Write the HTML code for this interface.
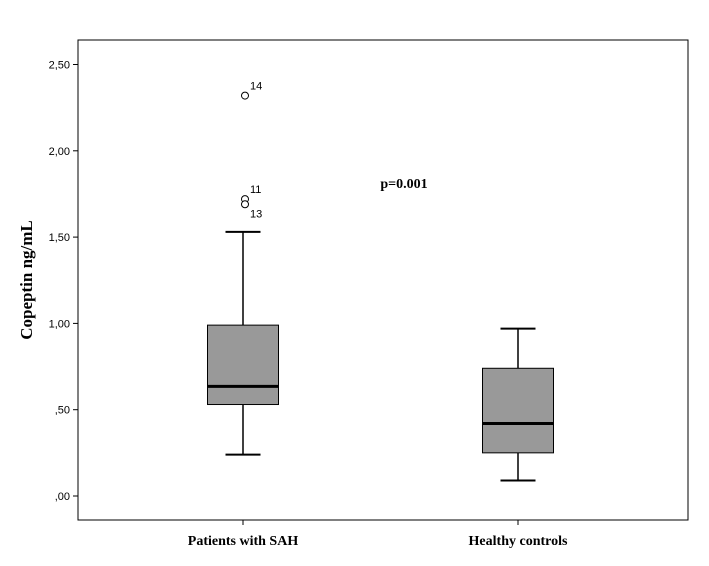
<!DOCTYPE html>
<html><head><meta charset="utf-8"><style>
body{margin:0;background:#fff;}
svg{display:block;}
</style></head><body>
<svg id="chart" width="709" height="566" xmlns="http://www.w3.org/2000/svg">
<rect x="0" y="0" width="709" height="566" fill="#fff"/>
<rect x="78" y="40" width="610" height="480" fill="none" stroke="#000" stroke-width="1"/>
<text x="32" y="280" transform="rotate(-90 32 280)" text-anchor="middle" font-family="Liberation Serif, serif" font-weight="bold" font-size="17">Copeptin ng/mL</text>
<text x="404" y="188" text-anchor="middle" font-family="Liberation Serif, serif" font-weight="bold" font-size="14">p=0.001</text>
<g id="yaxis"></g><g id="boxes"></g><g id="xaxis"></g>
</svg>
<script>
const categories = ["Patients with SAH", "Healthy controls"];
const whiskerLow = [0.24, 0.09];
const q1 = [0.53, 0.25];
const median = [0.635, 0.42];
const q3 = [0.99, 0.74];
const whiskerHigh = [1.53, 0.97];
const outlierValues = [[2.32, 1.72, 1.69], []];
const outlierLabels = [["14", "11", "13"], []];
const yTicks = [0, 0.5, 1, 1.5, 2, 2.5];
const yTickLabels = [",00", ",50", "1,00", "1,50", "2,00", "2,50"];

const NS = "http://www.w3.org/2000/svg";
function y(v){ return 496 - v * 172.6; }
function xc(i){ return 243 + i * 275; }
function mk(tag, attrs, parent){
  const e = document.createElementNS(NS, tag);
  for (const k in attrs) e.setAttribute(k, attrs[k]);
  parent.appendChild(e); return e;
}
const ya = document.getElementById('yaxis');
yTicks.forEach((t,i)=>{
  const l = mk('line',{x1:73,x2:78,y1:y(t),y2:y(t),stroke:'#000'},ya);
  
  
  const tx = mk('text',{x:70,y:y(t)+4,'text-anchor':'end','font-family':'Liberation Sans, sans-serif','font-size':'11'},ya);
  tx.textContent = yTickLabels[i];
  
  
});
const bx = document.getElementById('boxes');
const xa = document.getElementById('xaxis');
categories.forEach((c,i)=>{
  const cx = xc(i), hw = 35.5, cw = 17.5;
  const g = mk('g',{},bx);
  
  
  mk('line',{x1:cx,x2:cx,y1:y(whiskerHigh[i]),y2:y(q3[i]),stroke:'#000','stroke-width':1.5},g);
  mk('line',{x1:cx,x2:cx,y1:y(q1[i]),y2:y(whiskerLow[i]),stroke:'#000','stroke-width':1.5},g);
  mk('line',{x1:cx-cw,x2:cx+cw,y1:y(whiskerHigh[i]),y2:y(whiskerHigh[i]),stroke:'#000','stroke-width':2},g);
  mk('line',{x1:cx-cw,x2:cx+cw,y1:y(whiskerLow[i]),y2:y(whiskerLow[i]),stroke:'#000','stroke-width':2},g);
  mk('rect',{x:cx-hw,y:y(q3[i]),width:hw*2,height:y(q1[i])-y(q3[i]),fill:'#999',stroke:'#000','stroke-width':1},g);
  mk('line',{x1:cx-hw,x2:cx+hw,y1:y(median[i]),y2:y(median[i]),stroke:'#000','stroke-width':3},g);
  outlierValues[i].forEach((v,j)=>{
    const o = mk('circle',{cx:cx+2,cy:y(v),r:3.5,fill:'#fff',stroke:'#000','stroke-width':1},g);
    
    
    const t = mk('text',{x:cx+7,y:y(v)-6 + (j===2?19:0),'font-family':'Liberation Sans, sans-serif','font-size':'11'},g);
    t.textContent = outlierLabels[i][j];
    
    
  });
  const tk = mk('line',{x1:cx,x2:cx,y1:520,y2:525,stroke:'#000'},xa);
  
  
  const lab = mk('text',{x:cx,y:545,'text-anchor':'middle','font-family':'Liberation Serif, serif','font-weight':'bold','font-size':'14'},xa);
  lab.textContent = c;
  
  
});
</script>
</body></html>
